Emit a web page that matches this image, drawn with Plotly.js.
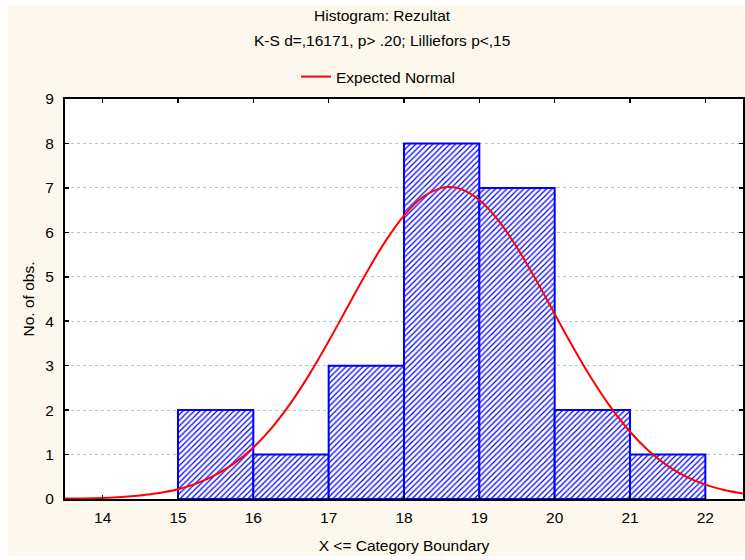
<!DOCTYPE html>
<html>
<head>
<meta charset="utf-8">
<script src="https://cdn.plot.ly/plotly-3.0.1.min.js"></script>
<style>
  html, body { margin: 0; padding: 0; background: #ffffff; }
  #chart { position: absolute; left: 8px; top: 5px; width: 737px; height: 551px; }
</style>
</head>
<body>
<div id="chart"></div>
<script>
// Histogram bins (lower edges) and counts
const binLower = [15, 16, 17, 18, 19, 20, 21];
const counts = [2, 1, 3, 8, 7, 2, 1];
const binWidth = 1;

// Expected normal curve
const curveX = [13.5, 13.75, 14, 14.25, 14.5, 14.75, 15, 15.25, 15.5, 15.75, 16, 16.25, 16.5, 16.75, 17, 17.25, 17.5, 17.75, 18, 18.25, 18.5, 18.6, 18.75, 19, 19.25, 19.5, 19.75, 20, 20.25, 20.5, 20.75, 21, 21.25, 21.5, 21.75, 22, 22.25, 22.5];
const curveY = [0.01, 0.013, 0.025, 0.045, 0.08, 0.135, 0.22, 0.353, 0.543, 0.807, 1.16, 1.613, 2.168, 2.821, 3.549, 4.32, 5.086, 5.791, 6.378, 6.795, 7.001, 7.02, 6.978, 6.727, 6.272, 5.657, 4.936, 4.165, 3.399, 2.683, 2.049, 1.513, 1.081, 0.747, 0.499, 0.323, 0.202, 0.122];

const xTicks = [14, 15, 16, 17, 18, 19, 20, 21, 22];

const titleLine1 = 'Histogram: Rezultat';
const titleLine2 = 'K-S d=,16171, p> .20; Lilliefors p<,15';
const seriesName = 'Expected Normal';
const xTitle = 'X <= Category Boundary';
const yTitle = 'No. of obs.';

const FONT = '"Liberation Sans", Arial, sans-serif';
const FS = 15.5;

const traces = [
  {
    type: 'bar',
    x: binLower,
    y: counts,
    width: binWidth,
    offset: 0,
    showlegend: false,
    hoverinfo: 'skip',
    marker: {
      color: '#ffffff',
      line: { color: '#0000ff', width: 2 },
      pattern: { shape: '/', fgcolor: '#0000ff', bgcolor: '#ffffff', size: 4, solidity: 0.3 }
    }
  },
  {
    type: 'scatter',
    mode: 'lines',
    name: seriesName,
    x: curveX,
    y: curveY,
    line: { color: '#ff0000', width: 2, shape: 'spline' }
  }
];

const layout = {
  width: 737,
  height: 551,
  paper_bgcolor: '#fdf8ee',
  plot_bgcolor: '#ffffff',
  margin: { l: 57, r: 2, t: 94, b: 57 },
  font: { family: FONT, size: FS, color: '#000000' },
  barmode: 'overlay',
  bargap: 0,
  showlegend: true,
  legend: {
    orientation: 'h',
    x: 0.3407, xanchor: 'left',
    y: 1.055, yanchor: 'middle',
    yref: 'paper',
    bgcolor: 'rgba(0,0,0,0)',
    font: { family: FONT, size: FS }
  },
  xaxis: {
    range: [13.5, 22.5],
    tickvals: xTicks,
    ticks: 'inside',
    ticklen: 4,
    tickwidth: 1.5,
    tickcolor: '#000000',
    showline: true,
    linecolor: '#000000',
    linewidth: 2,
    mirror: 'ticks',
    showgrid: false,
    zeroline: false,
    ticklabelstandoff: 3,
    title: { text: xTitle, font: { family: FONT, size: FS }, standoff: 16 }
  },
  yaxis: {
    range: [0, 9],
    dtick: 1,
    ticks: 'inside',
    ticklen: 4,
    tickwidth: 1.5,
    tickcolor: '#000000',
    showline: true,
    linecolor: '#000000',
    linewidth: 2,
    mirror: 'ticks',
    showgrid: true,
    gridcolor: '#c4c4c4',
    griddash: 'dot',
    gridwidth: 1,
    zeroline: false,
    ticklabelstandoff: 6,
    title: { text: yTitle, font: { family: FONT, size: FS }, standoff: 7 }
  },
  annotations: [
    { text: titleLine1, xref: 'paper', yref: 'paper', x: 0.4676, y: 1.21, xanchor: 'center', yanchor: 'middle', showarrow: false, font: { family: FONT, size: FS } },
    { text: titleLine2, xref: 'paper', yref: 'paper', x: 0.4676, y: 1.1475, xanchor: 'center', yanchor: 'middle', showarrow: false, font: { family: FONT, size: FS } }
  ]
};

Plotly.newPlot('chart', traces, layout, { displayModeBar: false, staticPlot: true });
</script>
</body>
</html>
